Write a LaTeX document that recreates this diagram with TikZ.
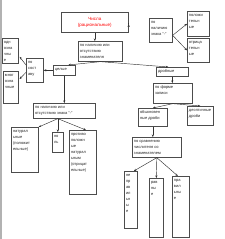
\documentclass[tikz,border=0pt]{standalone}
\usepackage{fontspec}
\setmainfont{Liberation Sans}
\usetikzlibrary{arrows.meta,calc}
\newcommand\bx[6]{%
  \node[bx, anchor=north west, minimum width={(#4-#2)*1pt}, minimum height={(#5-#3)*1pt}] (#1) at (#2,#3) {};
  \node[txt, anchor=north west] (#1-t) at (#1.north west) {#6};}
\begin{document}
\begin{tikzpicture}[x=1pt,y=-1pt,
  bx/.style={draw=black!70, line width=0.65pt, inner sep=0pt, fill=white},
  txt/.style={inner xsep=1.8pt, inner ysep=2.8pt, align=left, font=\fontsize{4}{6}\selectfont, text=black!85},
  arr/.style={draw=black!80, line width=0.45pt, -{Stealth[length=2.6pt,width=2.2pt]}},
  ln/.style={draw=black!80, line width=0.45pt}]
\useasboundingbox (0,0) rectangle (225,239);
\draw[black!30, line width=1.3pt] (1,0) -- (1,239);
% boxes
\node[bx, anchor=north west, minimum width=67pt, minimum height=20pt, text=red, align=center,
  font=\fontsize{4.5}{6.2}\selectfont] (chisla) at (61,12) {Числа\\(рациональные)};
\bx{zn}{78}{41}{122}{61}{по наличию или\\отсутствию\\знаменателя}
\bx{znak}{149}{18}{172}{42}{по\\наличию\\знака "-"}
\bx{pol}{187}{11}{209}{36}{положи\\тельн\\ые}
\bx{otr}{187}{38}{209}{62}{отрица\\тельн\\ые}
\bx{drob}{156}{67}{188}{76}{дробные}
\bx{celye}{53}{65}{75}{75}{целые}
\bx{sostav}{26}{58}{43}{82}{по\\сост\\аву}
\bx{odn}{2}{38}{18}{63}{одн\\озна\\чны\\е}
\bx{mnog}{3}{71}{18}{103}{мног\\озна\\чные}
\bx{zn2}{33}{103}{95}{118}{по наличию или\\отсутствию знака "-"}
\bx{nat}{11}{127}{38}{172}{натурал\\ьные\\(положит\\ельные)}
\bx{nol}{52}{132}{63}{152}{но\\ль}
\bx{prot}{69}{130}{96}{194}{противо\\положн\\ые\\натурал\\ьным\\(отрицат\\ельные)}
\bx{forma}{153}{83}{192}{103}{по форме\\записи}
\bx{obyk}{138}{108}{167}{126}{обыкновен\\ные дроби}
\bx{dec}{187}{106}{213}{125}{десятичные\\дроби}
\bx{sravn}{132}{137}{181}{157}{по сравнению\\числителя со\\знаменателем}
\bx{nepr}{124}{171}{137}{228}{не\\пр\\ав\\ил\\ьн\\ы\\е}
\bx{ravn}{149}{178}{163}{237}{рав\\ны\\е}
\bx{prav}{172}{176}{189}{237}{пра\\вил\\ьны\\е}
% connectors
\draw[arr] (chisla.south) -- (chisla.south |- zn.north);
\draw[arr] ($(chisla.east)+(0,2)$) -- ($(chisla.east)+(0,2)$ -| znak.west);
\draw[arr] ($(znak.east)+(0,5)$) -- (pol.west);
\draw[arr] ($(znak.east)+(0,5)$) -- (otr.west);
\draw[arr] (zn.south) -- ($(celye.north)+(4,0)$);
\draw[arr] (zn.south) -- ($(drob.north)+(-4,0)$);
\draw[arr] (celye.west) -- (celye.west -| sostav.east);
\draw[arr] ($(sostav.north west)+(0,7)$) -- ($(odn.east)+(1,6)$);
\draw[arr] ($(sostav.west)+(0,2)$) -- ($(mnog.north east)+(1,8)$);
\draw[arr] (celye.south) -- (celye.south |- zn2.north);
\coordinate (z2) at (nol.north |- zn2.south);
\draw[arr] (z2) -- (nat.north east);
\draw[arr] (z2) -- (nol.north);
\draw[arr] (z2) -- ($(prot.north)+(3,0)$);
\draw[arr] (drob.south) -- (drob.south |- forma.north);
\draw[arr] (forma.south) -- (obyk.north);
\draw[arr] (forma.south) -- (dec.north);
\draw[arr] (obyk.south) -- (obyk.south |- sravn.north);
\draw[arr] (sravn.south) -- ($(nepr.north)+(3,0)$);
\draw[arr] (sravn.south) -- (ravn.north);
\draw[arr] (sravn.south) -- ($(prav.north)+(-3,0)$);
\end{tikzpicture}
\end{document}
